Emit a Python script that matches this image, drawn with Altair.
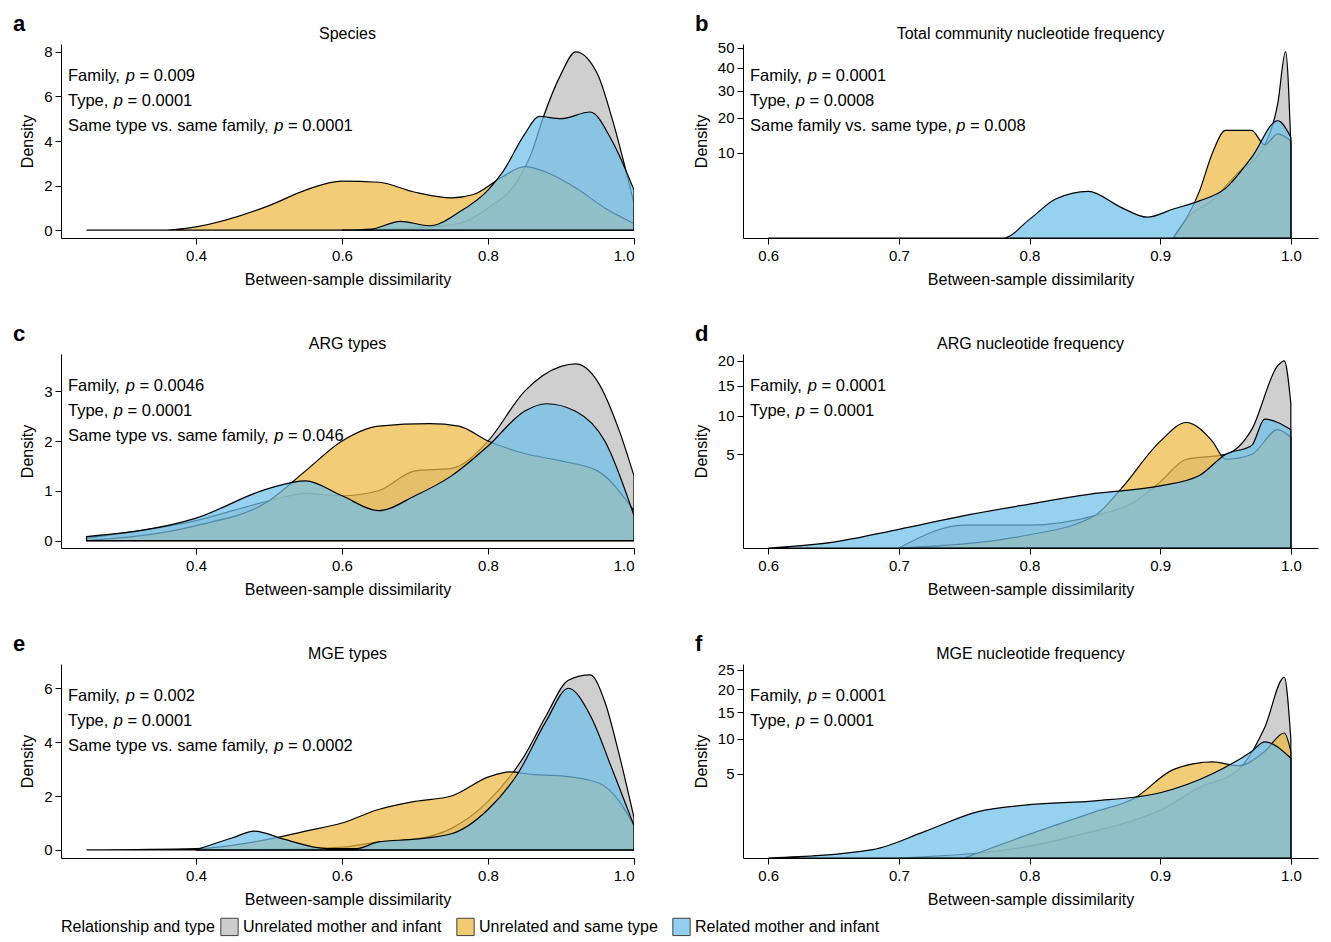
import pandas as pd
import altair as alt

series_names = ['Unrelated mother and infant', 'Unrelated and same type', 'Related mother and infant']
series_colors = ['#bdbdbd', '#efb944', '#6fbfea']

# panel a: Species
a_gray_x = [0.62, 0.7, 0.76, 0.8, 0.84, 0.86, 0.875, 0.9, 0.92, 0.95, 0.97, 1.0]
a_gray_y = [0.0, 0.1, 0.3, 1.0, 2.2, 3.5, 5.0, 7.0, 8.0, 7.0, 5.0, 1.2]
a_yel_x = [0.25, 0.35, 0.4, 0.5, 0.55, 0.6, 0.65, 0.7, 0.75, 0.78, 0.82, 0.85, 0.88, 0.92, 0.96, 1.0]
a_yel_y = [0.0, 0.0, 0.15, 1.1, 1.8, 2.2, 2.15, 1.7, 1.45, 1.6, 2.4, 2.85, 2.6, 1.9, 1.0, 0.3]
a_blu_x = [0.6, 0.64, 0.68, 0.72, 0.76, 0.8, 0.82, 0.85, 0.87, 0.9, 0.94, 0.97, 1.0]
a_blu_y = [0.0, 0.05, 0.4, 0.2, 0.8, 1.8, 2.6, 4.3, 5.1, 5.0, 5.3, 4.0, 1.8]

# panel b: Total community nucleotide frequency
b_gray_x = [0.91, 0.92, 0.94, 0.96, 0.98, 0.99, 0.996, 1.0]
b_gray_y = [0.0, 0.5, 2.0, 6.0, 12.0, 25.0, 48.0, 12.0]
b_yel_x = [0.91, 0.93, 0.94, 0.95, 0.97, 0.98, 0.99, 1.0]
b_yel_y = [0.0, 3.0, 10.0, 16.0, 16.0, 12.0, 15.0, 13.0]
b_blu_x = [0.6, 0.78, 0.8, 0.82, 0.845, 0.87, 0.89, 0.91, 0.93, 0.95, 0.97, 0.99, 1.0]
b_blu_y = [0.0, 0.0, 0.48, 2.1, 3.0, 1.3, 0.6, 1.16, 1.9, 3.4, 9.0, 19.0, 14.0]

# panel c: ARG types
c_gray_x = [0.25, 0.4, 0.5, 0.55, 0.6, 0.65, 0.7, 0.75, 0.8, 0.85, 0.9, 0.92, 0.95, 0.98, 1.0]
c_gray_y = [0.05, 0.4, 0.8, 0.95, 0.9, 1.0, 1.4, 1.45, 2.0, 3.0, 3.5, 3.55, 3.2, 2.2, 1.3]
c_yel_x = [0.25, 0.4, 0.5, 0.55, 0.6, 0.65, 0.72, 0.76, 0.8, 0.85, 0.9, 0.95, 1.0]
c_yel_y = [0.0, 0.3, 0.8, 1.4, 2.0, 2.3, 2.35, 2.3, 2.0, 1.75, 1.6, 1.4, 0.6]
c_blu_x = [0.25, 0.4, 0.5, 0.55, 0.6, 0.65, 0.7, 0.75, 0.8, 0.85, 0.88, 0.92, 0.96, 1.0]
c_blu_y = [0.08, 0.45, 1.05, 1.2, 0.9, 0.6, 0.9, 1.3, 1.9, 2.6, 2.75, 2.6, 2.0, 0.5]

# panel d: ARG nucleotide frequency
d_gray_x = [0.7, 0.75, 0.8, 0.85, 0.88, 0.9, 0.92, 0.95, 0.97, 0.99, 0.995, 1.0]
d_gray_y = [0.0, 0.3, 0.3, 0.6, 1.2, 2.5, 4.5, 5.0, 8.0, 19.0, 20.0, 12.0]
d_yel_x = [0.7, 0.8, 0.85, 0.87, 0.9, 0.92, 0.94, 0.95, 0.97, 0.99, 1.0]
d_yel_y = [0.0, 0.1, 0.6, 2.0, 6.5, 9.0, 6.5, 4.5, 5.0, 8.0, 7.0]
d_blu_x = [0.6, 0.65, 0.7, 0.75, 0.8, 0.85, 0.9, 0.93, 0.95, 0.97, 0.98, 0.99, 1.0]
d_blu_y = [0.0, 0.02, 0.2, 0.6, 1.1, 1.7, 2.2, 3.0, 5.0, 6.0, 9.5, 9.0, 8.0]

# panel e: MGE types
e_gray_x = [0.4, 0.55, 0.6, 0.65, 0.7, 0.75, 0.8, 0.85, 0.88, 0.91, 0.94, 0.96, 0.98, 1.0]
e_gray_y = [0.0, 0.05, 0.1, 0.3, 0.4, 0.8, 1.8, 3.5, 5.0, 6.3, 6.5, 5.5, 3.5, 1.2]
e_yel_x = [0.25, 0.4, 0.5, 0.55, 0.6, 0.65, 0.7, 0.75, 0.8, 0.83, 0.86, 0.9, 0.95, 0.98, 1.0]
e_yel_y = [0.0, 0.05, 0.4, 0.7, 1.0, 1.5, 1.8, 2.0, 2.7, 2.9, 2.8, 2.75, 2.5, 1.8, 0.9]
e_blu_x = [0.4, 0.45, 0.48, 0.52, 0.58, 0.62, 0.65, 0.7, 0.75, 0.8, 0.84, 0.88, 0.91, 0.94, 0.97, 1.0]
e_blu_y = [0.0, 0.45, 0.7, 0.4, 0.05, 0.05, 0.3, 0.4, 0.6, 1.5, 2.8, 4.8, 6.0, 5.0, 3.0, 0.9]

# panel f: MGE nucleotide frequency
f_gray_x = [0.7, 0.8, 0.84, 0.87, 0.9, 0.93, 0.96, 0.98, 0.995, 1.0]
f_gray_y = [0.0, 0.1, 0.4, 0.8, 1.6, 3.5, 5.5, 12.0, 23.0, 10.0]
f_yel_x = [0.75, 0.8, 0.85, 0.88, 0.91, 0.94, 0.96, 0.98, 0.995, 1.0]
f_yel_y = [0.0, 0.4, 1.5, 2.5, 5.5, 6.5, 6.0, 8.0, 11.0, 8.0]
f_blu_x = [0.6, 0.68, 0.72, 0.76, 0.8, 0.85, 0.9, 0.94, 0.97, 0.98, 1.0]
f_blu_y = [0.0, 0.05, 0.5, 1.5, 2.0, 2.3, 3.0, 5.0, 8.0, 9.5, 7.0]

panels = [
    dict(letter='a', title='Species', curves=[(a_gray_x, a_gray_y), (a_yel_x, a_yel_y), (a_blu_x, a_blu_y)],
         sqrt=False, ydom=[-0.35, 8.35], yticks=[0, 2, 4, 6, 8],
         notes=[('Family, ', '0.009'), ('Type, ', '0.0001'), ('Same type vs. same family, ', '0.0001')]),
    dict(letter='b', title='Total community nucleotide frequency', curves=[(b_gray_x, b_gray_y), (b_yel_x, b_yel_y), (b_blu_x, b_blu_y)],
         sqrt=True, ydom=[0, 52], yticks=[10, 20, 30, 40, 50],
         notes=[('Family, ', '0.0001'), ('Type, ', '0.0008'), ('Same family vs. same type, ', '0.008')]),
    dict(letter='c', title='ARG types', curves=[(c_gray_x, c_gray_y), (c_yel_x, c_yel_y), (c_blu_x, c_blu_y)],
         sqrt=False, ydom=[-0.15, 3.75], yticks=[0, 1, 2, 3],
         notes=[('Family, ', '0.0046'), ('Type, ', '0.0001'), ('Same type vs. same family, ', '0.046')]),
    dict(letter='d', title='ARG nucleotide frequency', curves=[(d_gray_x, d_gray_y), (d_yel_x, d_yel_y), (d_blu_x, d_blu_y)],
         sqrt=True, ydom=[0, 21.5], yticks=[5, 10, 15, 20],
         notes=[('Family, ', '0.0001'), ('Type, ', '0.0001')]),
    dict(letter='e', title='MGE types', curves=[(e_gray_x, e_gray_y), (e_yel_x, e_yel_y), (e_blu_x, e_blu_y)],
         sqrt=False, ydom=[-0.3, 6.9], yticks=[0, 2, 4, 6],
         notes=[('Family, ', '0.002'), ('Type, ', '0.0001'), ('Same type vs. same family, ', '0.0002')]),
    dict(letter='f', title='MGE nucleotide frequency', curves=[(f_gray_x, f_gray_y), (f_yel_x, f_yel_y), (f_blu_x, f_blu_y)],
         sqrt=True, ydom=[0, 26.5], yticks=[5, 10, 15, 20, 25],
         notes=[('Family, ', '0.0001'), ('Type, ', '0.0001')]),
]

# approximate Arial widths (per 1000 em) for placing italic "p"
W = {' ': 278, ',': 278, '.': 278, '=': 584, 'F': 611, 'T': 611, 'S': 667, 'a': 556, 'm': 833, 'i': 222,
     'l': 222, 'y': 500, 'e': 556, 'p': 556, 's': 500, 'v': 500, 't': 278, 'f': 278, 'r': 333, 'n': 556, 'c': 500}
FS = 16.5
one = pd.DataFrame({'k': [0]})


def tw(s):
    return sum(W.get(ch, 556) for ch in s) * FS / 1000.0


def txt(text, x, y, align='left', **kw):
    return alt.Chart(one).mark_text(align=align, baseline='middle', text=text, **kw).encode(
        x=alt.value(x), y=alt.value(y))


def panel(p, left):
    width = 573 if left else 575
    xdom = [0.215, 1.0] if left else [0.5807, 1.0208]
    xticks = [0.4, 0.6, 0.8, 1.0] if left else [0.6, 0.7, 0.8, 0.9, 1.0]
    yscale = alt.Scale(domain=p['ydom'], type='sqrt' if p['sqrt'] else 'linear', nice=False)
    layers = []
    for name, (xs, ys) in zip(series_names, p['curves']):
        df = pd.DataFrame({'x': xs, 'y': ys, 'series': name})
        layers.append(alt.Chart(df).mark_area(
            interpolate='monotone', fillOpacity=0.72, stroke='black', strokeWidth=1.2, clip=True).encode(
            x=alt.X('x:Q', scale=alt.Scale(domain=xdom, nice=False),
                    axis=alt.Axis(values=xticks, format='.1f', title='Between-sample dissimilarity',
                                  grid=False, tickSize=6, labelPadding=4, titlePadding=8)),
            y=alt.Y('y:Q', scale=yscale, stack=None,
                    axis=alt.Axis(values=p['yticks'], title='Density', grid=False, tickSize=6,
                                  labelPadding=3, titlePadding=8)),
            color=alt.Color('series:N', scale=alt.Scale(domain=series_names, range=series_colors),
                            legend=alt.Legend(title='Relationship and type')),
        ))
    for i, (pre, val) in enumerate(p['notes']):
        y0 = 32 + i * 25
        w1 = tw(pre)
        layers.append(txt(pre, 7, y0, fontSize=FS))
        layers.append(txt('p', 7 + w1, y0, fontSize=FS, fontStyle='italic'))
        layers.append(txt('= ' + val, 7 + w1 + tw('p') + tw(' '), y0, fontSize=FS))
    layers.append(txt(p['letter'], -48, -20, fontSize=22, fontWeight='bold'))
    layers.append(txt(p['title'], width / 2, -10, align='center', fontSize=16))
    return alt.layer(*layers).properties(width=width, height=194)


rows = []
for r in range(3):
    rows.append(alt.hconcat(panel(panels[2 * r], True), panel(panels[2 * r + 1], False), spacing=58))

chart = alt.vconcat(*rows, spacing=36).configure_view(stroke=None).configure_axis(
    labelFontSize=15, titleFontSize=16, labelFont='Liberation Sans', titleFont='Liberation Sans',
    titleFontWeight='normal', domainColor='black', tickColor='black', labelColor='black', titleColor='black'
).configure_text(font='Liberation Sans', color='black'
).configure_legend(orient='bottom', direction='horizontal', titleOrient='left', labelFontSize=16, titleFontSize=16,
                   titleFontWeight='normal', symbolType='square', symbolSize=300, symbolStrokeColor='black',
                   symbolStrokeWidth=1, symbolOpacity=0.75, labelFont='Liberation Sans', titleFont='Liberation Sans',
                   offset=10, columnPadding=12, labelLimit=0, titleLimit=0)

chart.save("out.html", embed_options={"renderer": "svg", "actions": False})
